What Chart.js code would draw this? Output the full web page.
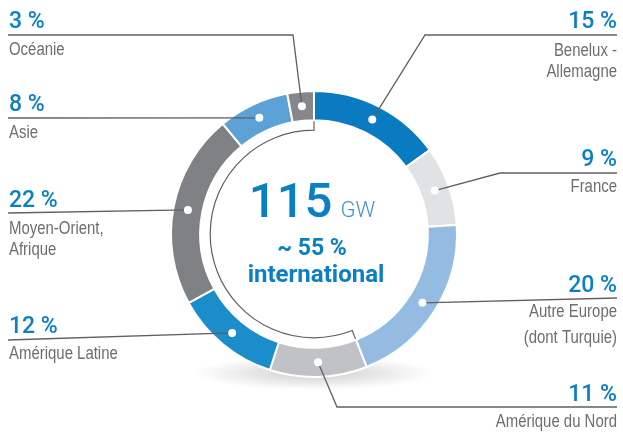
<!DOCTYPE html>
<html lang="fr">
<head>
<meta charset="utf-8">
<title>Capacité installée par région</title>
<script src="https://cdn.jsdelivr.net/npm/chart.js@4.4.1/dist/chart.umd.min.js"></script>
<style>
  html, body { margin: 0; padding: 0; background: #fff; }
  #wrap { position: relative; width: 623px; height: 432px; }
</style>
</head>
<body>
<div id="wrap"><canvas id="regions-chart" width="623" height="432"></canvas></div>
<script>
'use strict';

// data, clockwise from 12 o'clock
const regions = ['Benelux - Allemagne', 'France', 'Autre Europe (dont Turquie)', 'Amérique du Nord',
  'Amérique Latine', 'Moyen-Orient, Afrique', 'Asie', 'Océanie'];
const shares = [15, 9, 20, 11, 12, 22, 8, 3];
const labelLines = [
  ['Benelux -', 'Allemagne'],
  ['France'],
  ['Autre Europe', '(dont Turquie)'],
  ['Amérique du Nord'],
  ['Amérique Latine'],
  ['Moyen-Orient,', 'Afrique'],
  ['Asie'],
  ['Océanie'],
];
const totalCapacity = '115';
const capacityUnit = 'GW';
const internationalText = ['~ 55 %', 'international'];
// first segment of the "international" bracket
const internationalFrom = 3;

const sliceColors = ['#0a7bc1', '#e1e2e4', '#94bbe2', '#c1c2c5', '#1a8dca', '#808185', '#5ca2d6', '#86878b'];

// where each callout sits (same order as the data)
const callouts = [
  { side: 'right', pctY: 28, lineY: 35, textY: [56, 77], elbow: [425, 35] },
  { side: 'right', pctY: 166, lineY: 173, textY: [192], elbow: [500, 173] },
  { side: 'right', pctY: 292, lineY: 298, textY: [317, 343], elbow: null },
  { side: 'right', pctY: 401, lineY: 407, textY: [427], elbow: [337, 407] },
  { side: 'left', pctY: 333, lineY: 340, textY: [359], elbow: null },
  { side: 'left', pctY: 207, lineY: 213, textY: [234, 255], elbow: null },
  { side: 'left', pctY: 111, lineY: 118, textY: [138], elbow: null },
  { side: 'left', pctY: 28, lineY: 35, textY: [55], elbow: [293, 35] },
];

const LEFT_X = 8;
const RIGHT_X = 617;
const BLUE = '#0a7fc4';
const GREY_TEXT = '#6d6e71';
const LINE = '#5f6063';
const PCT_FONT = '500 23px Roboto, "Noto Sans", sans-serif';
const LABEL_FONT = '18px "Liberation Sans", Arial, sans-serif';
const NARROW = 0.83;

// condensed label text: squeeze a regular face horizontally
function narrowText(ctx, text, x, y, align) {
  ctx.save();
  ctx.translate(x, y);
  ctx.scale(NARROW, 1);
  ctx.textAlign = align;
  ctx.fillText(text, 0, 0);
  ctx.restore();
}

const decorPlugin = {
  id: 'decor',
  beforeDatasetsDraw: function (chart) {
    const ctx = chart.ctx;
    const arc = chart.getDatasetMeta(0).data[0];
    // soft shadow under the ring
    ctx.save();
    ctx.translate(arc.x, arc.y + arc.outerRadius - 4);
    ctx.scale(1, 0.14);
    const g = ctx.createRadialGradient(0, 0, 0, 0, 0, 120);
    g.addColorStop(0, 'rgba(0,0,0,0.2)');
    g.addColorStop(0.6, 'rgba(0,0,0,0.08)');
    g.addColorStop(1, 'rgba(0,0,0,0)');
    ctx.fillStyle = g;
    ctx.beginPath();
    ctx.arc(0, 0, 120, 0, Math.PI * 2);
    ctx.fill();
    ctx.restore();
  },
  afterDatasetsDraw: function (chart) {
    const ctx = chart.ctx;
    const arcs = chart.getDatasetMeta(0).data;
    const cx = arcs[0].x;
    const cy = arcs[0].y;
    const rIn = arcs[0].innerRadius;
    const rLine = rIn - 10;

    // thin bracket for the international share
    const a0 = arcs[internationalFrom].startAngle;
    const a1 = arcs[arcs.length - 1].endAngle;
    ctx.save();
    ctx.strokeStyle = LINE;
    ctx.lineWidth = 1.2;
    ctx.beginPath();
    ctx.moveTo(cx + Math.cos(a0) * (rIn - 1), cy + Math.sin(a0) * (rIn - 1));
    ctx.lineTo(cx + Math.cos(a0) * rLine, cy + Math.sin(a0) * rLine);
    ctx.arc(cx, cy, rLine, a0, a1);
    ctx.lineTo(cx + Math.cos(a1) * (rIn - 1), cy + Math.sin(a1) * (rIn - 1));
    ctx.stroke();

    // leader lines, dots, texts
    arcs.forEach(function (el, i) {
      const c = callouts[i];
      const p = el.getCenterPoint();
      const endX = c.side === 'left' ? LEFT_X : RIGHT_X;
      ctx.strokeStyle = LINE;
      ctx.lineWidth = 1.3;
      ctx.beginPath();
      ctx.moveTo(endX, c.lineY);
      if (c.elbow) ctx.lineTo(c.elbow[0], c.elbow[1]);
      ctx.lineTo(p.x, p.y);
      ctx.stroke();

      ctx.fillStyle = '#fff';
      ctx.beginPath();
      ctx.arc(p.x, p.y, 4, 0, Math.PI * 2);
      ctx.fill();

      const tx = c.side === 'left' ? LEFT_X + 1 : RIGHT_X;
      const align = c.side === 'left' ? 'left' : 'right';
      ctx.textAlign = align;
      ctx.textBaseline = 'alphabetic';
      ctx.fillStyle = BLUE;
      ctx.font = PCT_FONT;
      ctx.fillText(shares[i] + ' %', tx, c.pctY);
      ctx.fillStyle = GREY_TEXT;
      ctx.font = LABEL_FONT;
      labelLines[i].forEach(function (line, k) {
        narrowText(ctx, line, tx, c.textY[k], align);
      });
    });

    // centre text
    ctx.fillStyle = BLUE;
    ctx.textAlign = 'left';
    ctx.font = '500 49px Roboto, sans-serif';
    const wBig = ctx.measureText(totalCapacity).width;
    ctx.font = '300 22px Roboto, sans-serif';
    const wUnit = ctx.measureText(capacityUnit).width;
    const startX = cx - 2 - (wBig + 8 + wUnit) / 2;
    ctx.font = '500 49px Roboto, sans-serif';
    ctx.fillText(totalCapacity, startX, cy - 17);
    ctx.fillStyle = '#3d93d3';
    ctx.font = '300 22px Roboto, sans-serif';
    ctx.fillText(capacityUnit, startX + wBig + 8, cy - 17);
    ctx.fillStyle = BLUE;
    ctx.textAlign = 'center';
    ctx.font = 'bold 23px Roboto, sans-serif';
    ctx.fillText(internationalText[0], cx - 2, cy + 21);
    ctx.font = 'bold 24px Roboto, sans-serif';
    ctx.fillText(internationalText[1], cx + 2, cy + 48);
    ctx.restore();
  },
};

const ctx = document.getElementById('regions-chart').getContext('2d');
new Chart(ctx, {
  type: 'doughnut',
  data: {
    labels: regions,
    datasets: [{
      data: shares,
      backgroundColor: sliceColors,
      borderColor: '#fff',
      borderWidth: 2,
      hoverOffset: 0,
    }],
  },
  options: {
    responsive: false,
    animation: false,
    events: [],
    radius: 143,
    cutout: 113,
    layout: {
      padding: { left: 171, right: 166, top: 91, bottom: 55 },
    },
    plugins: {
      legend: { display: false },
      tooltip: { enabled: false },
    },
  },
  plugins: [decorPlugin],
});
</script>
</body>
</html>
